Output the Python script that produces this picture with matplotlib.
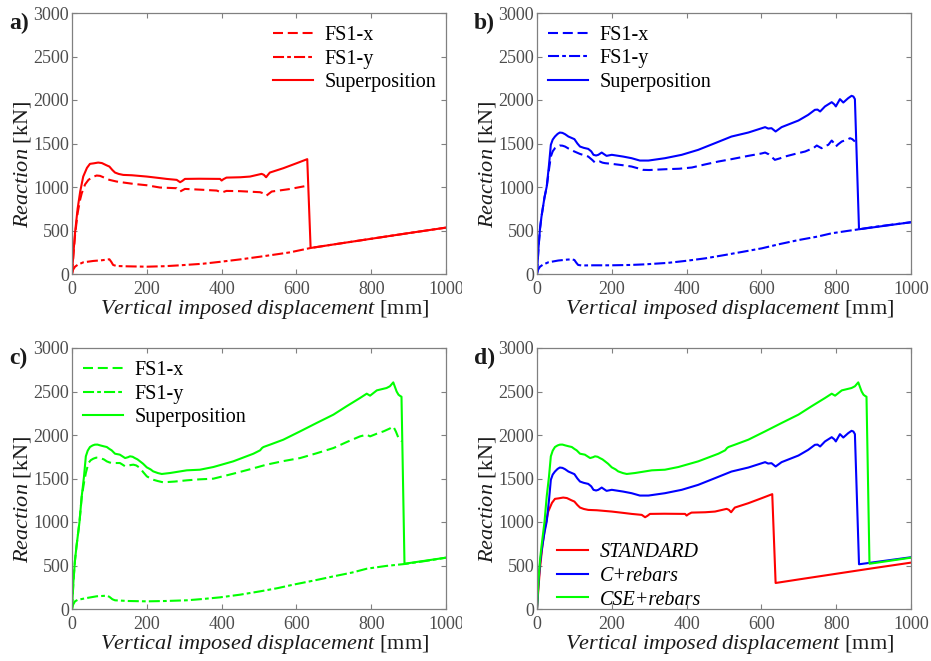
import matplotlib
matplotlib.use("Agg")
import matplotlib.pyplot as plt
from matplotlib.patches import Rectangle

plt.rcParams["font.family"] = ["Liberation Serif", "DejaVu Serif"]
plt.rcParams["mathtext.fontset"] = "custom"
plt.rcParams["mathtext.rm"] = "Liberation Serif"
plt.rcParams["mathtext.it"] = "Liberation Serif:italic"

# ---------------- data: vertical displacement [mm] vs reaction [kN] ----------------
# STANDARD
std_x_disp = [0, 4, 8, 15, 22, 26, 35, 44, 55, 66, 75, 85, 100, 119, 140, 164, 200, 235, 280,
              289, 295, 302, 340, 387, 400, 413, 450, 503, 513, 520, 527, 534, 580, 627, 632]
std_x_react = [0, 230, 440, 700, 860, 928, 1030, 1082, 1115, 1132, 1128, 1110, 1082, 1063, 1050,
               1036, 1020, 994, 986, 948, 962, 978, 970, 959, 936, 955, 952, 940, 925, 901, 925,
               948, 975, 1013, 1024]
std_y_disp = [0, 3, 8, 15, 30, 57, 80, 100, 105, 110, 119, 150, 200, 250, 289, 350, 396, 450,
              503, 550, 583, 638, 700, 800, 900, 1000]
std_y_react = [0, 50, 84, 105, 134, 150, 158, 169, 140, 104, 92, 88, 84, 90, 100, 118, 140, 168,
               199, 228, 249, 299, 340, 405, 470, 533]
std_sup_disp = [0, 4, 8, 15, 22, 30, 40, 48, 58, 70, 80, 92, 100, 108, 115, 125, 137, 160, 200,
                230, 253, 280, 289, 295, 302, 340, 396, 400, 405, 413, 450, 476, 507, 513, 519,
                524, 529, 565, 601, 629, 638, 700, 800, 900, 1000]
std_sup_react = [0, 250, 468, 750, 950, 1120, 1220, 1266, 1272, 1281, 1275, 1250, 1235, 1195,
                 1166, 1150, 1139, 1135, 1120, 1105, 1093, 1082, 1055, 1070, 1093, 1095, 1093,
                 1074, 1090, 1108, 1112, 1120, 1151, 1140, 1112, 1140, 1166, 1216, 1274, 1320,
                 299, 340, 405, 470, 533]

# C+rebars
cr_x_disp = [0, 4, 8, 12, 20, 26, 32, 37, 42, 48, 55, 61, 68, 75, 85, 100, 115, 137, 148, 155,
             162, 168, 175, 182, 200, 230, 253, 270, 284, 300, 342, 380, 414, 450, 485, 520, 565,
             600, 610, 620, 636, 650, 663, 690, 717, 740, 748, 755, 761, 770, 779, 788, 795, 799,
             805, 815, 830, 837, 843, 850]
cr_x_react = [0, 300, 520, 660, 880, 1000, 1200, 1350, 1410, 1446, 1465, 1477, 1475, 1465, 1440,
              1408, 1380, 1350, 1310, 1281, 1285, 1293, 1280, 1274, 1266, 1250, 1235, 1215, 1197,
              1195, 1204, 1210, 1224, 1260, 1293, 1320, 1358, 1385, 1396, 1375, 1312, 1330, 1350,
              1380, 1408, 1450, 1477, 1460, 1446, 1470, 1485, 1534, 1500, 1465, 1490, 1523, 1545,
              1561, 1550, 1523]
cr_y_disp = [0, 3, 8, 15, 30, 57, 80, 93, 100, 105, 110, 120, 150, 200, 250, 289, 350, 396, 450,
             503, 550, 601, 650, 699, 750, 788, 830, 861, 900, 950, 1000]
cr_y_react = [0, 50, 84, 105, 134, 155, 165, 169, 161, 130, 104, 98, 100, 100, 104, 111, 128, 150,
              180, 219, 255, 295, 345, 390, 430, 468, 495, 514, 540, 568, 595]
cr_sup_disp = [0, 4, 8, 12, 20, 26, 32, 37, 42, 48, 55, 61, 68, 75, 84, 92, 100, 108, 115, 125,
               137, 145, 151, 158, 164, 173, 180, 186, 200, 230, 253, 275, 298, 342, 387, 431, 476,
               520, 565, 610, 618, 627, 638, 654, 699, 725, 743, 750, 757, 770, 788, 795, 799, 810,
               819, 832, 841, 846, 850, 861, 1000]
cr_sup_react = [0, 300, 520, 660, 880, 1005, 1250, 1485, 1545, 1580, 1610, 1626, 1622, 1607,
                1580, 1565, 1550, 1500, 1465, 1450, 1438, 1410, 1370, 1362, 1370, 1396, 1375,
                1358, 1370, 1350, 1331, 1304, 1304, 1331, 1370, 1427, 1504, 1580, 1626, 1688,
                1672, 1676, 1638, 1688, 1764, 1829, 1887, 1890, 1868, 1926, 1975, 1950, 1926,
                2010, 1971, 2021, 2048, 2040, 2010, 514, 595]

# CSE+rebars
cse_x_disp = [0, 4, 8, 12, 20, 26, 32, 37, 44, 50, 57, 65, 75, 85, 93, 100, 106, 115, 128, 135,
              142, 150, 157, 164, 172, 182, 190, 200, 210, 217, 230, 244, 275, 307, 340, 378, 431,
              475, 520, 565, 610, 654, 699, 735, 770, 788, 797, 815, 833, 850, 859, 866, 873, 882]
cse_x_react = [0, 330, 560, 720, 1000, 1290, 1450, 1563, 1678, 1710, 1728, 1740, 1735, 1720,
               1697, 1685, 1678, 1678, 1678, 1660, 1640, 1645, 1655, 1659, 1650, 1620, 1575, 1525,
               1500, 1486, 1470, 1456, 1465, 1479, 1490, 1498, 1555, 1605, 1659, 1700, 1735, 1790,
               1850, 1920, 1984, 2004, 1984, 2015, 2042, 2075, 2099, 2040, 1965, 1927]
cse_y_disp = [0, 3, 8, 15, 39, 66, 93, 100, 108, 115, 150, 200, 250, 307, 350, 396, 450, 503,
              550, 592, 650, 699, 750, 788, 840, 889, 950, 1000]
cse_y_react = [0, 50, 88, 105, 126, 146, 153, 140, 112, 100, 92, 88, 92, 100, 115, 134, 165, 203,
               240, 280, 330, 375, 420, 463, 495, 517, 555, 590]
cse_sup_disp = [0, 4, 8, 12, 20, 26, 32, 37, 42, 48, 55, 61, 68, 75, 85, 93, 100, 106, 115, 128,
                142, 150, 155, 162, 168, 175, 182, 190, 200, 210, 217, 230, 240, 262, 307, 342,
                378, 431, 485, 503, 508, 512, 530, 565, 610, 654, 699, 734, 770, 788, 797, 815,
                841, 850, 859, 868, 873, 877, 881, 889, 1000]
cse_sup_react = [0, 330, 560, 720, 1000, 1295, 1520, 1755, 1820, 1862, 1880, 1889, 1890, 1881,
                 1870, 1862, 1840, 1824, 1785, 1774, 1735, 1745, 1755, 1750, 1735, 1720, 1697,
                 1670, 1628, 1605, 1582, 1562, 1552, 1563, 1594, 1601, 1632, 1697, 1785, 1824,
                 1850, 1862, 1890, 1946, 2042, 2138, 2234, 2330, 2425, 2475, 2452, 2513, 2540,
                 2560, 2605, 2500, 2463, 2450, 2440, 520, 590]

x_ticks = [0, 200, 400, 600, 800, 1000]
y_ticks = [0, 500, 1000, 1500, 2000, 2500, 3000]
panel_tags = ["a)", "b)", "c)", "d)"]
series_names = ["FS1-x", "FS1-y", "Superposition"]
model_names = ["STANDARD", "C+rebars", "CSE+rebars"]

RED, BLUE, GREEN = "#ff0000", "#0000ff", "#00ff00"
LW = 1.5
DASH = (4.8, 2.3)
DASHDOT = (5.3, 1.5, 1.8, 1.5)
SPINE = "#808080"
TICKTXT = "#4d4d4d"

fig = plt.figure(figsize=(9.31, 6.61), dpi=100)
W, H = 931.0, 661.0

# axes boxes in pixels: left, top, right, bottom
boxes = [(72, 13, 446, 274), (537, 13, 911, 274), (72, 348, 446, 609), (537, 348, 911, 609)]
axes = []
for (l, t, r, b) in boxes:
    ax = fig.add_axes([l / W, (H - b) / H, (r - l) / W, (b - t) / H])
    axes.append(ax)


def style(ax, tag):
    ax.set_xlim(0, 1000)
    ax.set_ylim(0, 3000)
    ax.set_xticks(x_ticks)
    ax.set_yticks(y_ticks)
    for s in ax.spines.values():
        s.set_color(SPINE)
        s.set_linewidth(0.9)
    ax.tick_params(direction="in", top=True, right=True, length=3.5, width=0.8,
                   color=SPINE, labelsize=13, labelcolor=TICKTXT)
    ax.tick_params(axis="x", pad=5)
    ax.tick_params(axis="y", pad=2)
    ax.text(0.516, -0.152, r"$\mathit{Vertical\ imposed\ displacement}$ [mm]",
            transform=ax.transAxes, ha="center", va="baseline", fontsize=16, color="#1a1a1a")
    ax.text(-0.132, 0.42, r"$\mathit{Reaction}$ [kN]", transform=ax.transAxes,
            rotation=90, ha="center", va="center", fontsize=16, color="#1a1a1a")
    ax.text(-0.168, 0.94, tag, transform=ax.transAxes, ha="left", va="baseline",
            fontsize=17, fontweight="bold", color="#1a1a1a")


def component_panel(ax, color, xd, xr, yd, yr, sd, sr, tag, anchor):
    ax.plot(xd, xr, color=color, lw=LW, dashes=DASH, label=series_names[0])
    ax.plot(yd, yr, color=color, lw=LW, dashes=DASHDOT, label=series_names[1])
    ax.plot(sd, sr, color=color, lw=LW, label=series_names[2])
    style(ax, tag)
    ax.legend(loc="upper left", bbox_to_anchor=anchor, frameon=False, fontsize=14.5,
              handlelength=2.0, handletextpad=0.55, labelspacing=0.22,
              borderpad=0, borderaxespad=0)


component_panel(axes[0], RED, std_x_disp, std_x_react, std_y_disp, std_y_react,
                std_sup_disp, std_sup_react, panel_tags[0], (0.537, 0.95))
component_panel(axes[1], BLUE, cr_x_disp, cr_x_react, cr_y_disp, cr_y_react,
                cr_sup_disp, cr_sup_react, panel_tags[1], (0.03, 0.952))
component_panel(axes[2], GREEN, cse_x_disp, cse_x_react, cse_y_disp, cse_y_react,
                cse_sup_disp, cse_sup_react, panel_tags[2], (0.03, 0.95))

ax = axes[3]
ax.plot(std_sup_disp, std_sup_react, color=RED, lw=LW, label=model_names[0])
ax.plot(cr_sup_disp, cr_sup_react, color=BLUE, lw=LW, label=model_names[1])
ax.plot(cse_sup_disp, cse_sup_react, color=GREEN, lw=LW, label=model_names[2])
style(ax, panel_tags[3])
ax.legend(loc="lower left", bbox_to_anchor=(0.053, -0.002), frameon=False,
          prop={"family": "Liberation Serif", "style": "italic", "size": 14.5},
          handlelength=1.55, handletextpad=0.6, labelspacing=0.22,
          borderpad=0, borderaxespad=0)

# the left column's last x tick label is cut at the panel edge
for top in (276, 611):
    fig.patches.append(Rectangle((462 / W, (H - top - 26) / H), 8 / W, 26 / H,
                                 transform=fig.transFigure, facecolor="white",
                                 edgecolor="none", zorder=10))

fig.savefig("out.png", dpi=100)
